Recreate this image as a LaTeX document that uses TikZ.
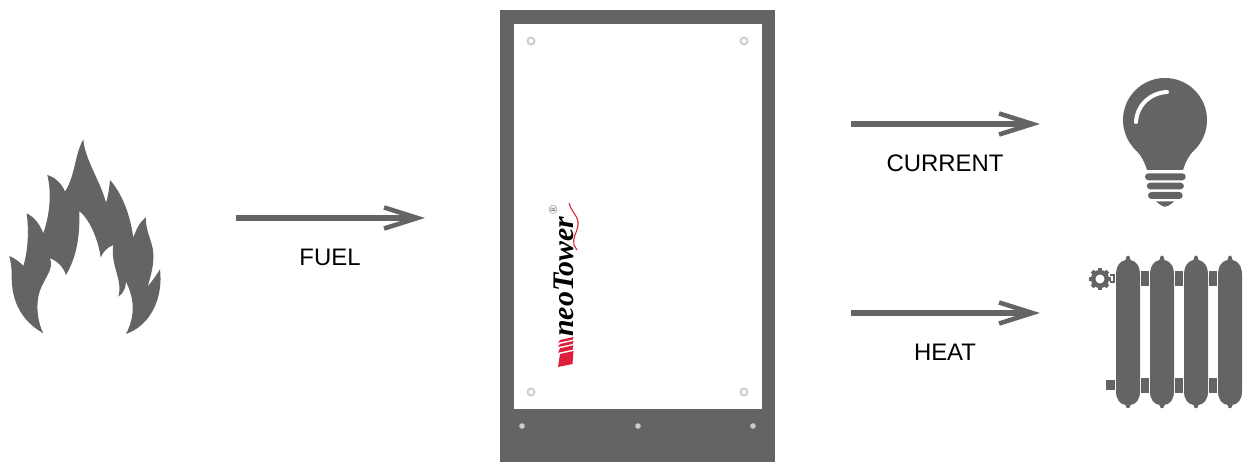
\documentclass[tikz,border=0pt]{standalone}
\usepackage{fontspec}
\setmainfont{Liberation Sans}
\newfontfamily\logofont{Liberation Serif}
\usetikzlibrary{arrows.meta}
\definecolor{darkgrey}{HTML}{646464}
\definecolor{screwgrey}{HTML}{CCCCCC}
\definecolor{logored}{HTML}{DD1F3C}
\tikzset{
flowarrow/.style = {draw = darkgrey, line width = 3.2pt, -{Straight Barb[length = 19pt, width = 12pt, line width = 2.6pt]}},
flowlabel/.style = {font = \fontsize{13.6}{16}\selectfont, text = black, inner sep = 0pt},
screw/.style = {draw = screwgrey, line width = 1.1pt, fill = white},
pin/.style = {fill = screwgrey},
solid grey/.style = {fill = darkgrey}
}
\begin{document}
\begin{tikzpicture}[x = 0.02cm, y = -0.02cm]
\useasboundingbox (0,0) rectangle (1244,462);
% flame
\begin{scope}[shift = {(0,130)}, scale = 0.3333]
\fill[solid grey] (130,610) .. controls (60,570) and (35,510) .. (35,440)
 .. controls (36,415) and (32,395) .. (28,378) .. controls (45,385) and (60,397) .. (70,408)
 .. controls (82,370) and (88,310) .. (80,250) .. controls (105,262) and (120,285) .. (130,310)
 .. controls (150,250) and (155,190) .. (142,135) .. controls (165,142) and (185,160) .. (195,185)
 .. controls (225,140) and (225,70) .. (250,28) .. controls (255,90) and (300,150) .. (318,218)
 .. controls (325,195) and (328,175) .. (330,150) .. controls (365,190) and (390,250) .. (400,323)
 .. controls (410,295) and (420,275) .. (438,262) .. controls (435,310) and (465,340) .. (460,390)
 .. controls (458,420) and (450,445) .. (443,470) .. controls (455,455) and (470,435) .. (480,418)
 .. controls (490,500) and (455,585) .. (378,612) .. controls (405,560) and (405,510) .. (378,455)
 .. controls (378,475) and (368,492) .. (355,500) .. controls (370,450) and (330,405) .. (340,345)
 .. controls (322,352) and (310,365) .. (302,382) .. controls (295,330) and (270,270) .. (238,243)
 .. controls (240,320) and (230,380) .. (198,435) .. controls (190,410) and (170,392) .. (150,385)
 .. controls (165,420) and (125,450) .. (115,500) .. controls (108,540) and (115,580) .. (130,610) -- cycle;
\end{scope}
% tower
\fill[solid grey] (500,10) rectangle (775,462);
\fill[white] (514,24) rectangle (762,409);
\foreach \x in {531,744}
  \foreach \y in {41,392}
    \draw[screw] (\x,\y) circle (3.5);
\foreach \x in {522,638,753}
  \fill[pin] (\x,426) circle (2.8);
% logo
\node (logotext) [rotate = 90, anchor = base west, inner sep = 0pt, font = \logofont\bfseries\itshape\fontsize{17}{20}\selectfont, text = black] at (573,337) {neoTower};
\node (logomark) [rotate = 90, inner sep = 0pt, font = \logofont\fontsize{7}{8}\selectfont, text = darkgrey] at (553,210) {®};
\foreach \ya/\yb in {340/342.7,344/347,348.3/352.7,354/367}
  \fill[logored] (558,\yb) -- (572.5,\yb-3) -- (573.5,\ya-3) -- (560,\ya) -- cycle;
\draw[logored, line width = 0.6pt] (569,203) .. controls (571,212) and (579,216) .. (578,225) .. controls (577,233) and (572,238) .. (574,245) -- (577,250);
% arrows
\coordinate (fuelstart) at (236,218);
\coordinate (fuelend) at (425,218);
\coordinate (currentstart) at (851,124);
\coordinate (currentend) at (1040,124);
\coordinate (heatstart) at (851,313);
\coordinate (heatend) at (1040,313);
\draw[flowarrow] (fuelstart) -- (fuelend);
\draw[flowarrow] (currentstart) -- (currentend);
\draw[flowarrow] (heatstart) -- (heatend);
\node (fuellabel) [flowlabel] at (330,257) {FUEL};
\node (currentlabel) [flowlabel] at (945,163) {CURRENT};
\node (heatlabel) [flowlabel] at (945,352) {HEAT};
% bulb
\fill[solid grey] (1165,120) circle (42);
\fill[solid grey] (1133,147) .. controls (1140,154) and (1144,160) .. (1147,170) -- (1183,170) .. controls (1186,160) and (1190,154) .. (1197,147) -- cycle;
\draw[white, line width = 2.3pt, line cap = round] (1136,122) .. controls (1137,105) and (1150,93) .. (1167,92);
\fill[solid grey, rounded corners = 2pt] (1145,173.3) rectangle (1185.7,180.3);
\fill[solid grey, rounded corners = 2pt] (1146.7,182.7) rectangle (1184,189.3);
\fill[solid grey, rounded corners = 2pt] (1148,192) rectangle (1182.7,199);
\fill[solid grey] (1156,201.3) .. controls (1160,205) and (1163,206.7) .. (1165,206.7) .. controls (1167,206.7) and (1170,205) .. (1174.3,201.3) -- cycle;
% radiator
\foreach \x in {1116,1150,1184,1218} {
  \fill[solid grey, shift = {(\x,0)}] (0,275) .. controls (0,266) and (4,261) .. (9.5,260)
   .. controls (10,254) and (14,254) .. (14.5,260) .. controls (20,261) and (24,266) .. (24,275)
   -- (24,391) .. controls (24,400) and (20,404) .. (14.5,405) .. controls (14,409.5) and (10,409.5) .. (9.5,405)
   .. controls (4,404) and (0,400) .. (0,391) -- cycle;
}
\foreach \x in {1141,1175,1209} {
  \fill[solid grey] (\x,271) rectangle (\x+8,286);
  \fill[solid grey] (\x,378) rectangle (\x+8,393);
}
\fill[solid grey] (1106,380) rectangle (1115,390);
% gear
\draw[draw = darkgrey, line width = 2.6pt] (1100,279) circle (6.8);
\foreach \a in {0,45,...,315}
  \fill[solid grey, rotate around = {\a:(1100,279)}] (1098,268) rectangle (1102,273);
\draw[draw = darkgrey, line width = 1.1pt] (1110,275) -- (1114,275) -- (1114,282) -- (1110,282);
\end{tikzpicture}
\end{document}
